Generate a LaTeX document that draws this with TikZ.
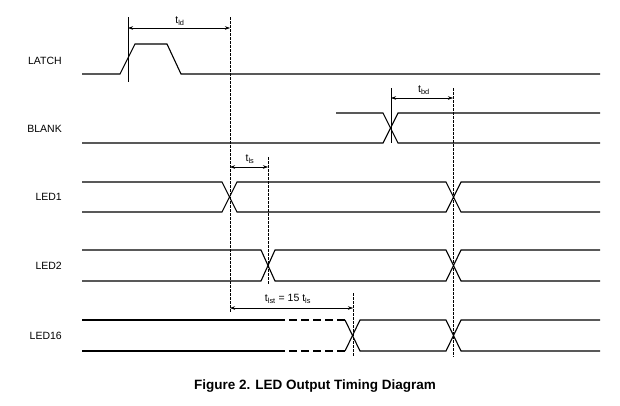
\documentclass[tikz,border=0pt]{standalone}
\usepackage{fontspec}
\setmainfont{Liberation Sans}
\usetikzlibrary{arrows.meta}
\begin{document}
\begin{tikzpicture}[x=1pt,y=-1pt,
  sig/.style={line width=1.1pt, line join=miter},
  sigdash/.style={line width=1.1pt, dash pattern=on 8pt off 4pt},
  guide/.style={line width=0.5pt, dash pattern=on 2.5pt off 1.5pt},
  refline/.style={line width=0.6pt},
  dim/.style={line width=0.5pt, {Stealth[length=5pt,width=3.5pt]}-{Stealth[length=5pt,width=3.5pt]}},
  lbl/.style={font=\fontsize{10.5}{12}\selectfont, anchor=east, inner sep=0pt},
  tlbl/.style={font=\fontsize{10.5}{12}\selectfont, inner sep=0pt}]
\useasboundingbox (0,0) rectangle (620,405);

% signal names
\node[lbl] (latch) at (62,61) {LATCH};
\node[lbl] (blank) at (62,129) {BLANK};
\node[lbl] (led1) at (62,197) {LED1};
\node[lbl] (led2) at (62,266) {LED2};
\node[lbl] (led16) at (62,336) {LED16};

% LATCH
\draw[sig] (82,74) -- (120,74) -- (135,44) -- (167,44) -- (181,74) -- (600,74);
% BLANK
\draw[sig] (336,113) -- (383,113) -- (398,143) -- (600,143);
\draw[sig] (82,143) -- (383,143) -- (398,113) -- (600,113);
% LED1
\draw[sig] (82,182) -- (222,182) -- (237,212) -- (446,212) -- (461,182) -- (600,182);
\draw[sig] (82,212) -- (222,212) -- (237,182) -- (446,182) -- (461,212) -- (600,212);
% LED2
\draw[sig] (82,250) -- (261,250) -- (275,281) -- (446,281) -- (461,250) -- (600,250);
\draw[sig] (82,281) -- (261,281) -- (275,250) -- (446,250) -- (461,281) -- (600,281);
% LED16
\draw[sig] (82,320) -- (277,320);
\draw[sigdash] (277,320) -- (345,320);
\draw[sig] (345,320) -- (360,351) -- (446,351) -- (461,320) -- (600,320);
\draw[sig] (82,351) -- (277,351);
\draw[sigdash] (277,351) -- (345,351);
\draw[sig] (345,351) -- (360,320) -- (446,320) -- (461,351) -- (600,351);

% reference lines
\coordinate (ldA) at (128,17);  \coordinate (ldB) at (128,82);
\coordinate (g1A) at (230,17);  \coordinate (g1B) at (230,313);
\coordinate (bdA) at (391,88);  \coordinate (bdB) at (391,143);
\coordinate (g2A) at (453,88);  \coordinate (g2B) at (453,357);
\coordinate (g3A) at (268,157); \coordinate (g3B) at (268,284);
\coordinate (g4A) at (353,293); \coordinate (g4B) at (353,357);
\draw[refline] (ldA) -- (ldB);
\draw[refline] (bdA) -- (bdB);
\draw[guide] (g1A) -- (g1B);
\draw[guide] (g2A) -- (g2B);
\draw[guide] (g3A) -- (g3B);
\draw[guide] (g4A) -- (g4B);

% dimension arrows
\coordinate (a1) at (128,28); \coordinate (b1) at (230,28);
\coordinate (a2) at (391,98); \coordinate (b2) at (453,98);
\coordinate (a3) at (230,167); \coordinate (b3) at (268,167);
\coordinate (a4) at (230,308); \coordinate (b4) at (353,308);
\draw[dim] (a1) -- (b1);
\draw[dim] (a2) -- (b2);
\draw[dim] (a3) -- (b3);
\draw[dim] (a4) -- (b4);
\node[tlbl] (tld) at (180,21) {t\textsubscript{ld}};
\node[tlbl] (tbd) at (424,90) {t\textsubscript{bd}};
\node[tlbl] (tls) at (250,159) {t\textsubscript{ls}};
\node[tlbl] (tlst) at (288,299) {t\textsubscript{lst} = 15 t\textsubscript{ls}};

% caption
\node[font=\bfseries\fontsize{13.5}{16}\selectfont, inner sep=0pt] (cap) at (315,386) {Figure 2. LED Output Timing Diagram};
\end{tikzpicture}
\end{document}
